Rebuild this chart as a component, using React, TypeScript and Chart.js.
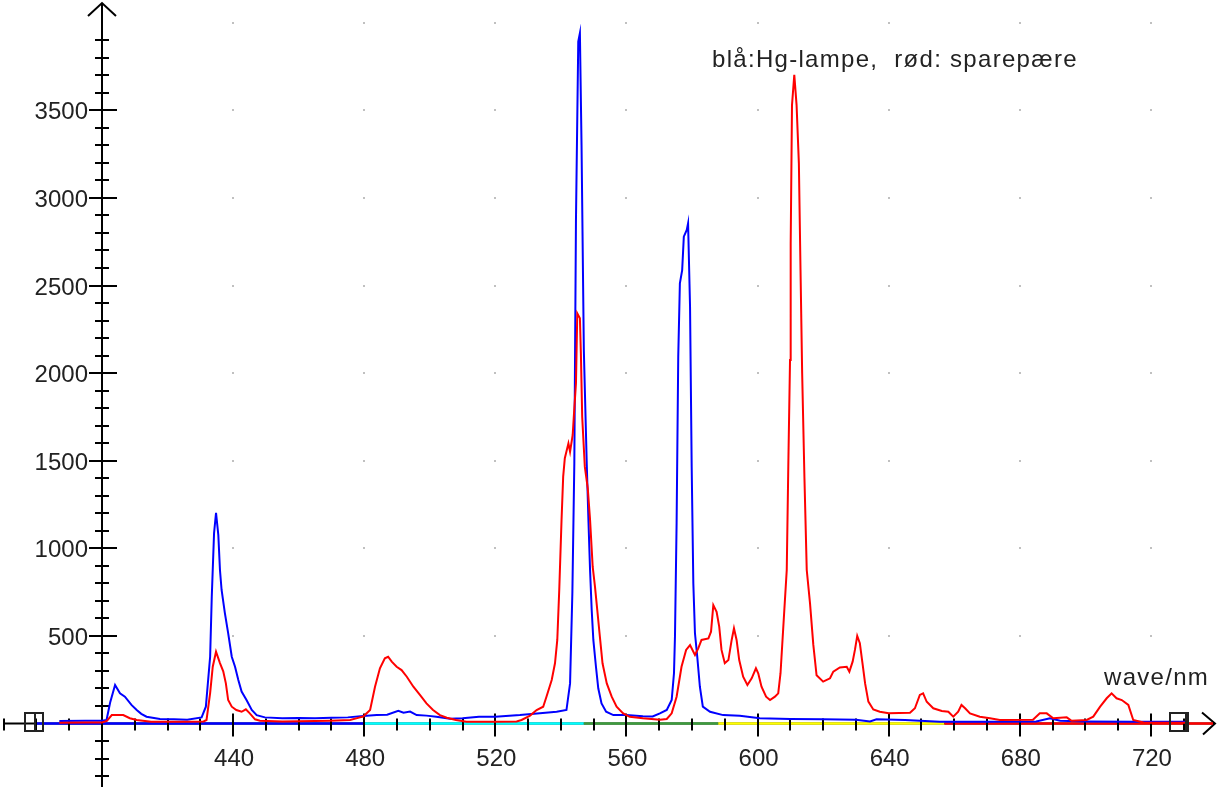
import React, { useEffect, useRef } from 'react';
import { Chart, registerables } from 'chart.js';

Chart.register(...registerables);

// Blue: Hg lamp spectrum
const hgWave = [387, 395, 400, 401.4, 402.5, 404, 405.5, 407, 409, 410.6, 412, 413.6, 417.7, 422, 426, 430.4, 431.7, 433, 433.5, 434.2, 434.8, 435.5, 436, 436.5, 437.5, 438.5, 439.6, 440.6, 441.6, 442.6, 444.1, 445.7, 447.2, 449.7, 455, 460, 465, 470, 475, 479.7, 483.8, 487, 490.4, 492, 494, 496, 499, 502, 506.2, 510, 515, 520, 527.5, 533.6, 538.7, 541.7, 542.8, 543.5, 544.1, 544.6, 545.3, 545.8, 546.3, 547, 547.9, 548.4, 548.9, 549.4, 549.9, 550.7, 551.4, 552.4, 553.8, 556, 560, 565, 568, 570.2, 572.3, 573.8, 574.5, 574.8, 575.3, 575.8, 576.3, 577, 577.5, 578.4, 578.8, 579.4, 579.9, 580.4, 580.9, 581.6, 582.4, 583.3, 585.5, 589.5, 594.6, 600.7, 610, 620, 630, 634.3, 636.3, 645, 655.6, 670, 685, 689.2, 692.3, 700, 715, 731];
const hgCounts = [14, 16, 16, 20, 120, 220, 172, 153, 106, 77, 55, 39, 26, 24, 22, 35, 96, 381, 724, 1087, 1203, 1076, 876, 762, 630, 516, 381, 324, 248, 182, 134, 77, 48, 35, 30, 32, 30, 33, 35, 43, 48, 50, 73, 62, 68, 48, 45, 39, 27, 30, 39, 39, 48, 58, 67, 77, 229, 743, 1485, 2874, 3892, 3940, 3302, 2132, 1476, 1162, 876, 648, 477, 324, 201, 115, 67, 48, 48, 42, 40, 58, 77, 134, 287, 495, 1143, 2094, 2513, 2588, 2779, 2817, 2855, 2379, 1466, 800, 515, 381, 210, 96, 67, 48, 44, 30, 26, 24, 22, 12, 24, 20, 10, 10, 12, 30, 16, 12, 10, 10];

// Red: compact fluorescent lamp (sparepære) spectrum
const cflWave = [387, 395, 400, 401.5, 403, 406.5, 408.5, 410.6, 415, 425, 431, 431.9, 433, 433.8, 434.8, 436, 437, 437.8, 438.5, 439.6, 441, 442.6, 443.9, 445.1, 446.7, 448.2, 455, 465, 469.6, 475.7, 478.7, 479.7, 481.8, 483.3, 484.8, 486.3, 487.3, 488.4, 489.9, 491.4, 493, 495, 497, 499, 501, 503.1, 505.2, 508, 511.2, 520, 526.5, 528, 530.6, 532.6, 534.6, 535.6, 537.2, 538.2, 538.9, 539.5, 540.2, 540.7, 541.2, 542.3, 542.8, 543.6, 544.1, 544.6, 545, 545.8, 546.1, 546.5, 547.3, 548.2, 548.9, 549.7, 550.4, 551.1, 551.9, 552.7, 554, 555.5, 557, 559, 561, 565, 570.2, 572.3, 573.8, 575.3, 575.8, 576.8, 578.2, 579.4, 580.9, 581.9, 582.9, 585, 585.8, 586.5, 587.5, 588.3, 589, 590, 591.1, 592.1, 592.8, 593.6, 594.4, 595.6, 596.9, 598.2, 599.5, 600.2, 601.2, 602.6, 603.8, 605.3, 606.3, 607, 608.1, 608.9, 609.4, 609.9, 610.1, 610.5, 611.2, 611.9, 612.6, 613.1, 613.6, 614.3, 615, 616, 617, 618, 620, 622.1, 623.1, 625.1, 627.2, 628, 629, 629.7, 630.4, 631.2, 632, 632.8, 633.8, 635.3, 637.3, 640, 646.5, 648, 649.5, 650.5, 651.6, 653.6, 656.2, 658.2, 659.7, 661.2, 662.2, 663.3, 664.8, 667.8, 670.9, 673.9, 684, 686.1, 688.2, 690.2, 694.3, 695.8, 700.4, 702.4, 704.5, 706.5, 708, 709.5, 711.1, 713.1, 714.6, 718, 731];
const cflCounts = [5, 6, 6, 15, 48, 48, 30, 20, 10, 10, 12, 20, 174, 324, 410, 345, 298, 229, 134, 96, 77, 67, 81, 58, 24, 16, 12, 14, 16, 20, 35, 40, 77, 210, 315, 372, 381, 353, 324, 305, 267, 210, 163, 115, 77, 48, 33, 20, 10, 10, 12, 20, 45, 77, 96, 153, 248, 344, 477, 762, 1162, 1409, 1514, 1599, 1551, 1647, 1799, 1942, 2341, 2313, 2113, 1751, 1466, 1342, 1162, 895, 781, 648, 495, 344, 229, 153, 96, 58, 38, 30, 22, 26, 58, 153, 210, 324, 420, 448, 391, 429, 477, 486, 524, 676, 638, 553, 420, 344, 362, 477, 543, 477, 362, 267, 220, 258, 315, 287, 210, 153, 134, 153, 172, 287, 629, 876, 1500, 2075, 2741, 3530, 3702, 3530, 3197, 2588, 2000, 1400, 876, 686, 450, 275, 239, 258, 296, 320, 324, 296, 353, 420, 500, 458, 344, 229, 125, 80, 67, 58, 62, 87, 163, 172, 124, 87, 71, 67, 39, 67, 106, 87, 58, 39, 30, 20, 22, 58, 58, 30, 35, 16, 20, 39, 96, 144, 172, 144, 134, 106, 20, 5, 5];

// Axes
const xTickLabels = [440, 480, 520, 560, 600, 640, 680, 720];
const yTickLabels = [500, 1000, 1500, 2000, 2500, 3000, 3500];
const xMinorFrom = 370;
const xMinorTo = 730;
const yMinorFrom = -300;
const yMinorTo = 3900;
const gridX = [440, 480, 520, 560, 600, 640, 680, 720];
const gridY = [500, 1000, 1500, 2000, 2500, 3000, 3500, 4000];

// Spectrum colour band along the wavelength axis
const spectrumStops = [380, 480, 547, 588, 657, 741];
const spectrumColors = ['#0000ff', '#00ffff', '#3c9c3c', '#ffff00', '#ff0000'];
const cursorWaves = [379.2, 728.6];

const legendText = 'blå:Hg-lampe,  rød: sparepære';
const axisTitle = 'wave/nm';

const W = 1217;
const H = 787;

const axesPlugin = {
  id: 'spectrumAxes',
  beforeDatasetsDraw(chart: any) {
    const ctx = chart.ctx as CanvasRenderingContext2D;
    const xs = chart.scales.x;
    const ys = chart.scales.y;
    const area = chart.chartArea;
    const x0 = Math.round(xs.getPixelForValue(400));
    const y0 = Math.round(ys.getPixelForValue(0)) - 0.5;
    ctx.save();

    // grid dots
    ctx.fillStyle = '#c0c0c0';
    gridX.forEach((gx) => {
      gridY.forEach((gy) => {
        const px = xs.getPixelForValue(gx);
        const py = ys.getPixelForValue(gy);
        ctx.fillRect(Math.round(px) - 1, Math.round(py) - 1, 2, 2);
      });
    });

    ctx.strokeStyle = '#000';
    ctx.lineWidth = 2;
    // x axis line
    const xLeft = xs.getPixelForValue(xMinorFrom);
    const xRight = area.right - 2;
    ctx.beginPath();
    ctx.moveTo(xLeft, y0);
    ctx.lineTo(xRight, y0);
    ctx.stroke();
    // arrow at right
    ctx.beginPath();
    ctx.moveTo(xRight - 13, y0 - 11);
    ctx.lineTo(xRight, y0);
    ctx.lineTo(xRight - 12, y0 + 11);
    ctx.stroke();

    // spectrum band
    ctx.lineWidth = 2.5;
    for (let i = 0; i < spectrumColors.length; i++) {
      ctx.strokeStyle = spectrumColors[i];
      ctx.beginPath();
      ctx.moveTo(xs.getPixelForValue(spectrumStops[i]), y0);
      ctx.lineTo(Math.min(xs.getPixelForValue(spectrumStops[i + 1]), xRight - 2), y0);
      ctx.stroke();
    }

    // y axis line
    ctx.strokeStyle = '#000';
    ctx.lineWidth = 2;
    const yTop = area.top + 3;
    ctx.beginPath();
    ctx.moveTo(x0, yTop);
    ctx.lineTo(x0, area.bottom);
    ctx.stroke();
    ctx.beginPath();
    ctx.moveTo(x0 - 14, yTop + 13);
    ctx.lineTo(x0, yTop);
    ctx.lineTo(x0 + 14, yTop + 13);
    ctx.stroke();

    // x ticks
    for (let v = xMinorFrom; v <= xMinorTo; v += 10) {
      const px = Math.round(xs.getPixelForValue(v));
      const major = v % 40 === 0;
      ctx.beginPath();
      ctx.moveTo(px, y0 - (major ? 10 : 5));
      ctx.lineTo(px, y0 + (major ? 13 : 7));
      ctx.stroke();
    }
    // y ticks
    for (let v = yMinorFrom; v <= yMinorTo; v += 100) {
      if (v === 0) continue;
      const py = Math.round(ys.getPixelForValue(v));
      const major = v % 500 === 0;
      ctx.beginPath();
      ctx.moveTo(x0 - (major ? 13 : 7), py);
      ctx.lineTo(x0 + (major ? 15 : 7), py);
      ctx.stroke();
    }

    // tick labels
    ctx.fillStyle = '#222';
    ctx.font = '24px "Liberation Sans", Arial, sans-serif';
    ctx.textBaseline = 'alphabetic';
    ctx.textAlign = 'center';
    xTickLabels.forEach((v) => {
      ctx.fillText(String(v), xs.getPixelForValue(v) + 1, y0 + 42);
    });
    ctx.textAlign = 'right';
    yTickLabels.forEach((v) => {
      ctx.fillText(String(v), x0 - 14, ys.getPixelForValue(v) + 9);
    });

    // texts
    ctx.textAlign = 'left';
    try { (ctx as any).letterSpacing = '1.3px'; } catch (e) {}
    ctx.fillText(legendText, 712, 67);
    ctx.fillText(axisTitle, 1104, 685);
    try { (ctx as any).letterSpacing = '0px'; } catch (e) {}
    ctx.restore();
  },
  afterDatasetsDraw(chart: any) {
    const ctx = chart.ctx as CanvasRenderingContext2D;
    const xs = chart.scales.x;
    const ys = chart.scales.y;
    const y0 = Math.round(ys.getPixelForValue(0)) - 0.5;
    ctx.save();
    ctx.strokeStyle = '#222';
    ctx.lineWidth = 2;
    cursorWaves.forEach((w, i) => {
      const cx = Math.round(xs.getPixelForValue(w));
      const cy = Math.round(y0 - 2);
      ctx.strokeRect(cx - 9, cy - 9, 18, 18);
      ctx.beginPath();
      const vx = i === 0 ? cx + 1 : cx + 7;
      ctx.moveTo(vx, cy - 9);
      ctx.lineTo(vx, cy + 9);
      ctx.stroke();
    });
    ctx.restore();
  },
};

export default function App() {
  const ref = useRef<HTMLCanvasElement | null>(null);
  useEffect(() => {
    document.body.style.margin = '0';
    const canvas = ref.current;
    if (!canvas) return;
    const chart = new Chart(canvas, {
      type: 'line',
      data: {
        datasets: [
          {
            label: 'rød: sparepære',
            data: cflWave.map((x, i) => ({ x, y: cflCounts[i] })),
            borderColor: '#ff0000',
            borderWidth: 2,
            pointRadius: 0,
            tension: 0,
            fill: false,
          },
          {
            label: 'blå: Hg-lampe',
            data: hgWave.map((x, i) => ({ x, y: hgCounts[i] })),
            borderColor: '#0000ff',
            borderWidth: 2,
            pointRadius: 0,
            tension: 0,
            fill: false,
          },
        ],
      },
      options: {
        animation: false,
        responsive: false,
        devicePixelRatio: 1,
        layout: { padding: 0 },
        plugins: { legend: { display: false }, tooltip: { enabled: false } },
        events: [],
        scales: {
          x: { type: 'linear', min: 368.9, max: 740.15, display: false },
          y: { type: 'linear', min: -362.4, max: 4129.6, display: false },
        },
      },
      plugins: [axesPlugin],
    } as any);
    return () => chart.destroy();
  }, []);
  return (
    <div style={{ position: 'absolute', left: 0, top: 0, width: W, height: H, background: '#fff' }}>
      <canvas ref={ref} width={W} height={H} style={{ display: 'block', width: W, height: H }} />
    </div>
  );
}
